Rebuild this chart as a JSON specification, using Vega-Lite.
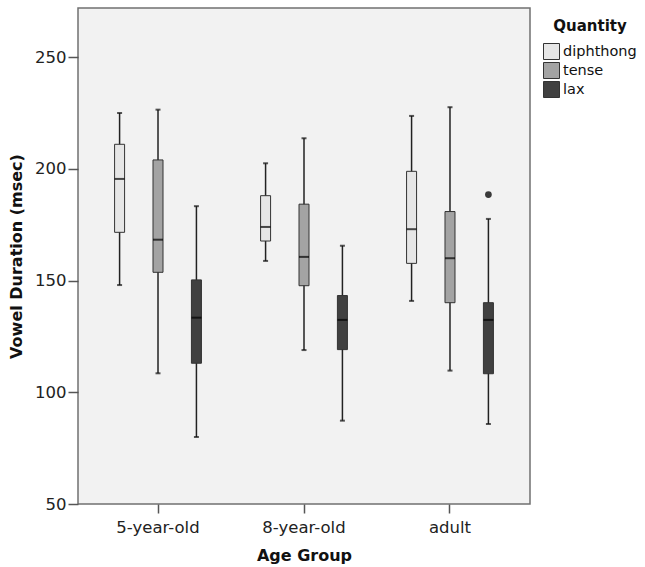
{
  "$schema": "https://vega.github.io/schema/vega-lite/v6.json",
  "width": 452,
  "height": 496,
  "autosize": {"type": "none"},
  "padding": {"left": 78, "top": 8, "right": 115, "bottom": 63},
  "background": "white",
  "config": {
    "view": {"fill": "#f2f2f2", "stroke": "#707070", "strokeWidth": 1.5},
    "font": "DejaVu Sans",
    "axis": {"labelFont": "DejaVu Sans", "titleFont": "DejaVu Sans", "labelColor": "#222", "titleColor": "#111", "grid": false, "domain": false, "tickColor": "#555", "tickWidth": 1.5}
  },
  "datasets": {
    "boxes": [
      {"group": "5-year-old", "quantity": "diphthong", "lower": 148, "q1": 171.6, "median": 195.5, "q3": 211, "upper": 225},
      {"group": "5-year-old", "quantity": "tense", "lower": 108.5, "q1": 153.7, "median": 168.3, "q3": 204, "upper": 226.5},
      {"group": "5-year-old", "quantity": "lax", "lower": 80, "q1": 113, "median": 133.4, "q3": 150.3, "upper": 183.3},
      {"group": "8-year-old", "quantity": "diphthong", "lower": 158.8, "q1": 167.7, "median": 174, "q3": 188, "upper": 202.5},
      {"group": "8-year-old", "quantity": "tense", "lower": 118.9, "q1": 147.7, "median": 160.6, "q3": 184.2, "upper": 213.7},
      {"group": "8-year-old", "quantity": "lax", "lower": 87.3, "q1": 119.1, "median": 132.4, "q3": 143.3, "upper": 165.6},
      {"group": "adult", "quantity": "diphthong", "lower": 140.9, "q1": 157.7, "median": 173, "q3": 198.9, "upper": 223.7},
      {"group": "adult", "quantity": "tense", "lower": 109.7, "q1": 140.1, "median": 160, "q3": 180.9, "upper": 227.6},
      {"group": "adult", "quantity": "lax", "lower": 85.8, "q1": 108.3, "median": 132.4, "q3": 140.1, "upper": 177.6}
    ],
    "outliers": [
      {"group": "adult", "quantity": "lax", "value": 188.5}
    ]
  },
  "encoding": {
    "x": {
      "field": "group", "type": "nominal",
      "sort": ["5-year-old", "8-year-old", "adult"],
      "scale": {"domain": ["5-year-old", "8-year-old", "adult"], "paddingInner": 0, "paddingOuter": 0.048},
      "axis": {"title": "Age Group", "labelAngle": 0, "labelFontSize": 16.5, "titleFontSize": 16, "titleFontWeight": "bold", "tickSize": 9, "labelPadding": 6, "titlePadding": 12}
    },
    "xOffset": {
      "field": "quantity", "type": "nominal",
      "scale": {"domain": ["diphthong", "tense", "lax"], "paddingInner": 0, "paddingOuter": 0.4}
    }
  },
  "layer": [
    {
      "data": {"name": "boxes"},
      "mark": {"type": "rule", "color": "#222", "strokeWidth": 1.5},
      "encoding": {
        "y": {
          "field": "lower", "type": "quantitative",
          "scale": {"domain": [50, 272], "nice": false, "zero": false},
          "axis": {"title": "Vowel Duration (msec)", "values": [50, 100, 150, 200, 250], "labelFontSize": 16.5, "titleFontSize": 16, "titleFontWeight": "bold", "tickSize": 10, "labelPadding": 2, "titlePadding": 10}
        },
        "y2": {"field": "upper"}
      }
    },
    {
      "data": {"name": "boxes"},
      "mark": {"type": "bar", "size": 10, "stroke": "#333", "strokeWidth": 1},
      "encoding": {
        "y": {"field": "q1", "type": "quantitative"},
        "y2": {"field": "q3"},
        "color": {
          "field": "quantity", "type": "nominal",
          "scale": {"domain": ["diphthong", "tense", "lax"], "range": ["#e6e6e6", "#a3a3a3", "#404040"]},
          "legend": {
            "title": "Quantity", "orient": "none", "legendX": 465, "legendY": 11,
            "titleFontSize": 15, "titleFontWeight": "bold", "titleColor": "#111", "titleAnchor": "middle",
            "labelFontSize": 14.5, "labelColor": "#111", "symbolType": "square", "symbolSize": 256,
            "symbolStrokeColor": "#333", "symbolStrokeWidth": 1, "rowPadding": -2, "labelOffset": 3, "titlePadding": 9
          }
        }
      }
    },
    {
      "data": {"name": "boxes"},
      "mark": {"type": "tick", "color": "#111", "size": 5, "thickness": 2},
      "encoding": {"y": {"field": "upper", "type": "quantitative"}}
    },
    {
      "data": {"name": "boxes"},
      "mark": {"type": "tick", "color": "#111", "size": 5, "thickness": 2},
      "encoding": {"y": {"field": "lower", "type": "quantitative"}}
    },
    {
      "data": {"name": "boxes"},
      "mark": {"type": "tick", "color": "#000", "size": 10, "thickness": 2},
      "encoding": {"y": {"field": "median", "type": "quantitative"}}
    },
    {
      "data": {"name": "outliers"},
      "mark": {"type": "point", "filled": true, "color": "#3a3a3a", "size": 45, "opacity": 1},
      "encoding": {"y": {"field": "value", "type": "quantitative"}}
    }
  ]
}
